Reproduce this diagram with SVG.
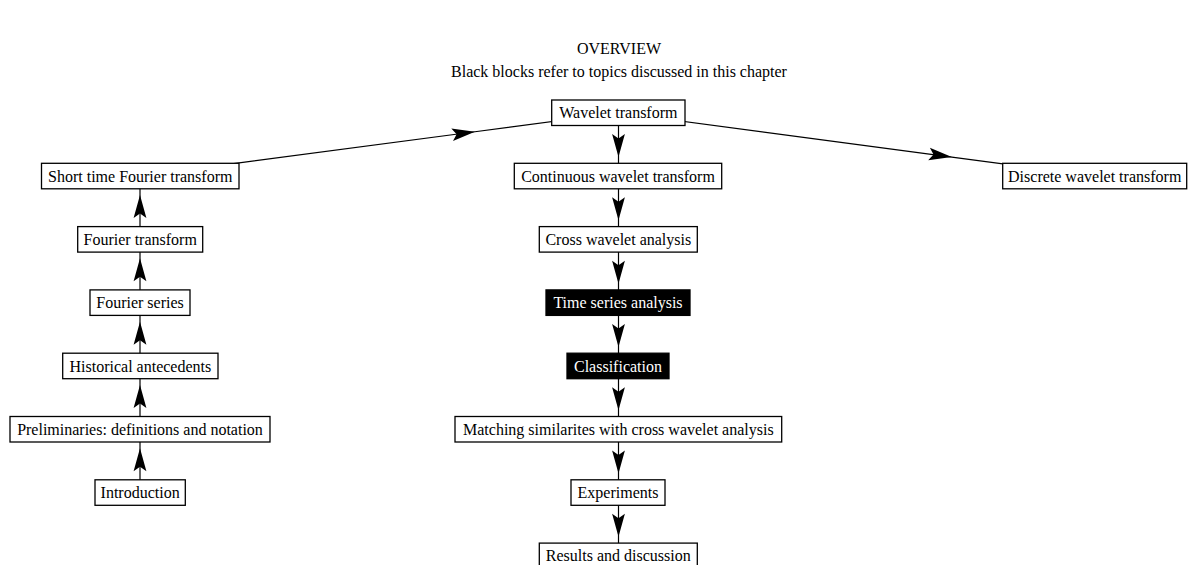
<svg xmlns="http://www.w3.org/2000/svg" width="1188" height="565" viewBox="0 0 1188 565">
  <style>
    .box { fill: #ffffff; stroke: #000000; stroke-width: 1.3; }
    .dark { fill: #000000; stroke: #000000; stroke-width: 1.3; }
    .lbl { font-family: "Liberation Serif", "Times New Roman", serif; font-size: 16px; fill: #000000; text-anchor: middle; }
    .lbl-inv { font-family: "Liberation Serif", "Times New Roman", serif; font-size: 16px; fill: #ffffff; text-anchor: middle; }
    .title { font-family: "Liberation Serif", "Times New Roman", serif; font-size: 16px; fill: #000000; text-anchor: middle; }
    .edge { fill: none; stroke: #000000; stroke-width: 1.2; marker-mid: url(#dart); }
  </style>
  <defs>
    <!-- dart-shaped arrowhead, tip at the origin, placed on the middle vertex of each edge -->
    <marker id="dart" viewBox="-24 -8 26 16" refX="0" refY="0" markerWidth="26" markerHeight="16" markerUnits="userSpaceOnUse" orient="auto" overflow="visible">
      <path d="M0,0 L-23,-6.4 L-18.5,0 L-23,6.4 Z" fill="#000000"/>
    </marker>
  </defs>

  <rect width="1188" height="565" fill="#ffffff"/>

  <g id="title">
    <text class="title" x="619" y="54">OVERVIEW</text>
    <text class="title" x="619" y="77">Black blocks refer to topics discussed in this chapter</text>
  </g>

  <!-- edges run centre to centre; the arrowhead sits 70% of the way along -->
  <g id="connectors">
    <path class="edge" d="M140,492.55 L140,448.24 L140,429.25"/>
    <path class="edge" d="M140,429.25 L140,384.94 L140,365.95"/>
    <path class="edge" d="M140,365.95 L140,321.64 L140,302.65"/>
    <path class="edge" d="M140,302.65 L140,258.34 L140,239.35"/>
    <path class="edge" d="M140,239.35 L140,195.04 L140,176.05"/>
    <path class="edge" d="M140,176.05 L474.95,131.74 L618.5,112.75"/>
    <path class="edge" d="M618.5,112.75 L951.84,157.06 L1094.7,176.05"/>
    <path class="edge" d="M618.5,112.75 L618.5,157.06 L618.5,176.05"/>
    <path class="edge" d="M618.5,176.05 L618.5,220.36 L618.5,239.35"/>
    <path class="edge" d="M618.5,239.35 L618.5,283.66 L618.5,302.65"/>
    <path class="edge" d="M618.5,302.65 L618.5,346.96 L618.5,365.95"/>
    <path class="edge" d="M618.5,365.95 L618.5,410.26 L618.5,429.25"/>
    <path class="edge" d="M618.5,429.25 L618.5,473.56 L618.5,492.55"/>
    <path class="edge" d="M618.5,492.55 L618.5,536.86 L618.5,555.85"/>
  </g>

  <!-- left column -->
  <g id="stft">
    <rect class="box" x="41.5" y="163.3" width="197.5" height="25.5"/>
    <text class="lbl" x="140.25" y="181.6">Short time Fourier transform</text>
  </g>
  <g id="fourier-transform">
    <rect class="box" x="77.7" y="226.6" width="125" height="25.5"/>
    <text class="lbl" x="140.2" y="244.9">Fourier transform</text>
  </g>
  <g id="fourier-series">
    <rect class="box" x="90" y="289.9" width="100" height="25.5"/>
    <text class="lbl" x="140" y="308.2">Fourier series</text>
  </g>
  <g id="historical">
    <rect class="box" x="62.7" y="353.2" width="155.3" height="25.5"/>
    <text class="lbl" x="140.35" y="371.5">Historical antecedents</text>
  </g>
  <g id="preliminaries">
    <rect class="box" x="10" y="416.5" width="260" height="25.5"/>
    <text class="lbl" x="140" y="434.8">Preliminaries: definitions and notation</text>
  </g>
  <g id="introduction">
    <rect class="box" x="95" y="479.8" width="90.3" height="25.5"/>
    <text class="lbl" x="140.15" y="498.1">Introduction</text>
  </g>

  <!-- middle column -->
  <g id="wavelet-transform">
    <rect class="box" x="551.7" y="100" width="133.3" height="25.5"/>
    <text class="lbl" x="618.35" y="118.3">Wavelet transform</text>
  </g>
  <g id="cwt">
    <rect class="box" x="514.3" y="163.3" width="207.4" height="25.5"/>
    <text class="lbl" x="618" y="181.6">Continuous wavelet transform</text>
  </g>
  <g id="cross-wavelet">
    <rect class="box" x="539.3" y="226.6" width="158" height="25.5"/>
    <text class="lbl" x="618.3" y="244.9">Cross wavelet analysis</text>
  </g>
  <g id="time-series">
    <rect class="dark" x="546" y="289.9" width="144" height="25.5"/>
    <text class="lbl-inv" x="618" y="308.2">Time series analysis</text>
  </g>
  <g id="classification">
    <rect class="dark" x="567" y="353.2" width="102" height="25.5"/>
    <text class="lbl-inv" x="618" y="371.5">Classification</text>
  </g>
  <g id="matching">
    <rect class="box" x="455" y="416.5" width="326.7" height="25.5"/>
    <text class="lbl" x="618.35" y="434.8">Matching similarites with cross wavelet analysis</text>
  </g>
  <g id="experiments">
    <rect class="box" x="571" y="479.8" width="94" height="25.5"/>
    <text class="lbl" x="618" y="498.1">Experiments</text>
  </g>
  <g id="results">
    <rect class="box" x="539.3" y="543.1" width="158" height="25.5"/>
    <text class="lbl" x="618.3" y="561.4">Results and discussion</text>
  </g>

  <!-- right -->
  <g id="dwt">
    <rect class="box" x="1002.7" y="163.3" width="184" height="25.5"/>
    <text class="lbl" x="1094.7" y="181.6">Discrete wavelet transform</text>
  </g>
</svg>
